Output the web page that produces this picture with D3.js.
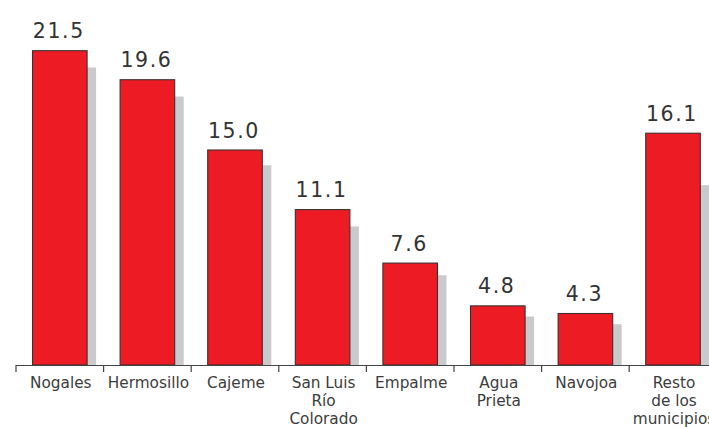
<!DOCTYPE html>
<html>
<head>
<meta charset="utf-8">
<script src="https://cdn.jsdelivr.net/npm/d3@7"></script>
<style>
  html, body { margin: 0; padding: 0; background: #fff; overflow: hidden; }
  svg { display: block; }
</style>
</head>
<body>
<svg id="chart" width="709" height="427"></svg>
<script>
// Data
const categories = ["Nogales", "Hermosillo", "Cajeme", "San Luis Río Colorado", "Empalme", "Agua Prieta", "Navojoa", "Resto de los municipios"];
const categoryLines = [["Nogales"], ["Hermosillo"], ["Cajeme"], ["San Luis", "Río", "Colorado"], ["Empalme"], ["Agua", "Prieta"], ["Navojoa"], ["Resto", "de los", "municipios"]];
const values = [21.5, 19.6, 15.0, 11.1, 7.6, 4.8, 4.3, 16.1];
const valueLabels = ["21.5", "19.6", "15.0", "11.1", "7.6", "4.8", "4.3", "16.1"];
const shadowValues = [20.4, 18.5, 14.0, 10.0, 6.8, 4.1, 3.6, 12.7];

const svg = d3.select("#chart");
const baseY = 365;
const x0 = 16, step = 87.6;

const x = d3.scaleBand()
  .domain(categories)
  .range([x0, x0 + step * categories.length])
  .paddingInner(0.377)
  .paddingOuter(0.1885);

const y = d3.scaleLinear()
  .domain([0.93, 21.5])
  .range([baseY, 50.7]);

const shadowOffset = 9;

// shadow (gray) bars
svg.append("g").selectAll("rect")
  .data(categories)
  .join("rect")
  .attr("x", (d) => x(d) + shadowOffset)
  .attr("y", (d, i) => y(shadowValues[i]))
  .attr("width", x.bandwidth())
  .attr("height", (d, i) => baseY - y(shadowValues[i]))
  .attr("fill", "#c9cacc");

// red bars
svg.append("g").selectAll("rect")
  .data(categories)
  .join("rect")
  .attr("x", (d) => x(d))
  .attr("y", (d, i) => y(values[i]))
  .attr("width", x.bandwidth())
  .attr("height", (d, i) => baseY - y(values[i]))
  .attr("fill", "#ed1c24")
  .attr("stroke", "#3a3030")
  .attr("stroke-width", 1.1);

// value labels
svg.append("g").selectAll("text")
  .data(categories)
  .join("text")
  .attr("x", (d) => x(d) + x.bandwidth() / 2 - 1)
  .attr("y", (d, i) => y(values[i]) - 12.5)
  .attr("text-anchor", "middle")
  .attr("font-family", "DejaVu Sans")
  .attr("font-size", 20.5)
  .attr("letter-spacing", 1.6)
  .attr("fill", "#333")
  .text((d, i) => valueLabels[i]);

// axis line
const axisG = svg.append("g");
axisG.append("line")
  .attr("x1", x0).attr("x2", 709)
  .attr("y1", baseY + 0.5).attr("y2", baseY + 0.5)
  .attr("stroke", "#444").attr("stroke-width", 1.2);

// ticks at band boundaries
const boundaries = d3.range(categories.length + 1).map(i => x0 + i * x.step());
axisG.selectAll("line.tick")
  .data(boundaries)
  .join("line")
  .attr("class", "tick")
  .attr("x1", d => d).attr("x2", d => d)
  .attr("y1", baseY).attr("y2", baseY + 7)
  .attr("stroke", "#444").attr("stroke-width", 1.2);

// category labels
const catG = svg.append("g").selectAll("text")
  .data(categories)
  .join("text")
  .attr("text-anchor", "middle")
  .attr("font-family", "DejaVu Sans")
  .attr("font-size", 15.3)
  .attr("fill", "#3c3c3c");

catG.each(function(d, i) {
  const t = d3.select(this);
  categoryLines[i].forEach((line, j) => {
    t.append("tspan")
      .attr("x", x(d) + x.bandwidth() / 2 + 1)
      .attr("y", 388 + j * 17.8)
      .text(line);
  });
});
</script>
</body>
</html>
